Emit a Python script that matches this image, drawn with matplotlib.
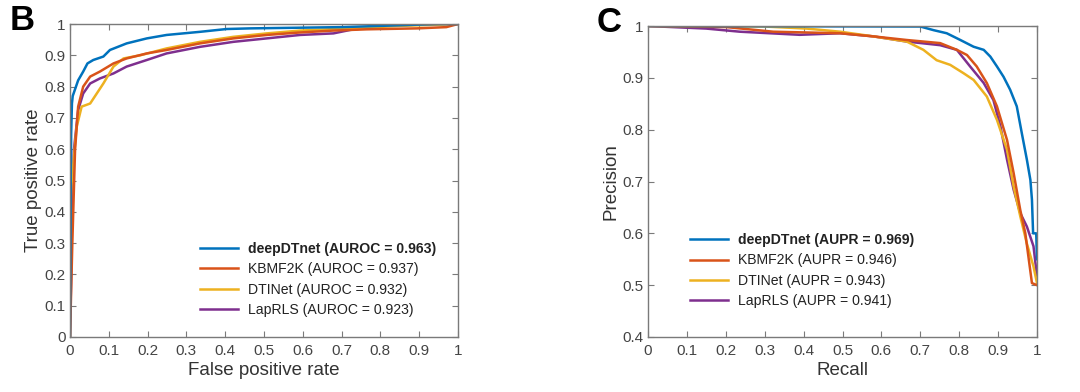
import matplotlib
matplotlib.use("Agg")
import matplotlib.pyplot as plt

plt.rcParams['font.family'] = ['Liberation Sans', 'DejaVu Sans']

# ROC curves (false positive rate, true positive rate)
roc_deep_x = [0, 0.002, 0.003, 0.005, 0.007, 0.021, 0.034, 0.045, 0.06, 0.086, 0.103, 0.146, 0.198, 0.249, 0.335, 0.404, 0.464, 0.7, 0.95, 1.0]
roc_deep_y = [0, 0.5, 0.65, 0.746, 0.77, 0.82, 0.848, 0.874, 0.885, 0.896, 0.917, 0.938, 0.954, 0.965, 0.975, 0.984, 0.986, 0.99, 1.0, 1.0]
roc_kbmf_x = [0, 0.006, 0.013, 0.021, 0.034, 0.052, 0.077, 0.112, 0.146, 0.198, 0.249, 0.335, 0.421, 0.507, 0.593, 0.679, 0.765, 0.894, 0.97, 1.0]
roc_kbmf_y = [0, 0.3, 0.597, 0.736, 0.80, 0.832, 0.848, 0.874, 0.89, 0.906, 0.917, 0.938, 0.954, 0.965, 0.973, 0.979, 0.983, 0.986, 0.99, 1.0]
roc_dti_x = [0, 0.001, 0.004, 0.017, 0.030, 0.052, 0.069, 0.086, 0.112, 0.138, 0.181, 0.249, 0.335, 0.421, 0.507, 0.593, 0.722, 0.851, 1.0]
roc_dti_y = [0, 0.4, 0.49, 0.67, 0.736, 0.746, 0.778, 0.81, 0.864, 0.89, 0.90, 0.922, 0.943, 0.959, 0.97, 0.979, 0.986, 0.994, 1.0]
roc_lap_x = [0, 0.003, 0.004, 0.01, 0.021, 0.034, 0.052, 0.077, 0.112, 0.146, 0.198, 0.249, 0.335, 0.421, 0.507, 0.593, 0.679, 0.722, 0.808, 0.894, 1.0]
roc_lap_y = [0, 0.2, 0.33, 0.597, 0.725, 0.778, 0.81, 0.826, 0.842, 0.864, 0.885, 0.906, 0.927, 0.943, 0.954, 0.965, 0.97, 0.981, 0.994, 0.998, 1.0]

# PR curves (recall, precision)
pr_deep_x = [0, 0.70, 0.734, 0.768, 0.803, 0.837, 0.863, 0.88, 0.897, 0.914, 0.931, 0.948, 0.961, 0.974, 0.983, 0.987, 0.99, 0.998, 1.0]
pr_deep_y = [1.0, 0.999, 0.992, 0.986, 0.973, 0.96, 0.954, 0.941, 0.922, 0.902, 0.877, 0.845, 0.793, 0.742, 0.703, 0.665, 0.60, 0.60, 0.55]
pr_kbmf_x = [0, 0.2, 0.322, 0.494, 0.579, 0.665, 0.751, 0.794, 0.82, 0.845, 0.871, 0.897, 0.923, 0.94, 0.957, 0.97, 0.979, 0.987, 1.0]
pr_kbmf_y = [1.0, 0.998, 0.989, 0.986, 0.98, 0.973, 0.967, 0.954, 0.944, 0.922, 0.89, 0.845, 0.78, 0.716, 0.645, 0.60, 0.549, 0.504, 0.50]
pr_dti_x = [0, 0.3, 0.408, 0.494, 0.579, 0.665, 0.708, 0.742, 0.777, 0.811, 0.837, 0.871, 0.897, 0.923, 0.94, 0.957, 0.974, 0.991, 1.0]
pr_dti_y = [1.0, 0.999, 0.995, 0.989, 0.98, 0.97, 0.954, 0.934, 0.925, 0.909, 0.896, 0.864, 0.819, 0.761, 0.69, 0.633, 0.58, 0.536, 0.504]
pr_lap_x = [0, 0.15, 0.236, 0.39, 0.494, 0.579, 0.665, 0.751, 0.794, 0.828, 0.863, 0.888, 0.906, 0.923, 0.94, 0.957, 0.974, 0.991, 1.0]
pr_lap_y = [1.0, 0.995, 0.989, 0.983, 0.986, 0.98, 0.97, 0.963, 0.954, 0.922, 0.89, 0.857, 0.806, 0.742, 0.684, 0.639, 0.613, 0.575, 0.517]

roc_labels = ["deepDTnet (AUROC = 0.963)", "KBMF2K (AUROC = 0.937)",
              "DTINet (AUROC = 0.932)", "LapRLS (AUROC = 0.923)"]
pr_labels = ["deepDTnet (AUPR = 0.969)", "KBMF2K (AUPR = 0.946)",
             "DTINet (AUPR = 0.943)", "LapRLS (AUPR = 0.941)"]
colors = ["#0072BD", "#D95319", "#EDB120", "#7E2F8E"]

ticks01 = [0, 0.1, 0.2, 0.3, 0.4, 0.5, 0.6, 0.7, 0.8, 0.9, 1]
tick_labels01 = ["0", "0.1", "0.2", "0.3", "0.4", "0.5", "0.6", "0.7", "0.8", "0.9", "1"]


def style_axes(ax):
    for s in ax.spines.values():
        s.set_color("#7a7a7a")
        s.set_linewidth(1.0)
    ax.tick_params(direction="in", top=True, right=True, length=4, width=0.8,
                   color="#7a7a7a", labelcolor="#444444", labelsize=11, pad=3)
    ax.tick_params(axis="x", pad=5)


fig = plt.figure(figsize=(10.8, 3.92), dpi=100)
ax1 = fig.add_axes([70 / 1080, 55 / 392, 388 / 1080, 313 / 392])
ax2 = fig.add_axes([648 / 1080, 55 / 392, 389 / 1080, 311 / 392])

roc_x = [roc_deep_x, roc_kbmf_x, roc_dti_x, roc_lap_x]
roc_y = [roc_deep_y, roc_kbmf_y, roc_dti_y, roc_lap_y]
pr_x = [pr_deep_x, pr_kbmf_x, pr_dti_x, pr_lap_x]
pr_y = [pr_deep_y, pr_kbmf_y, pr_dti_y, pr_lap_y]

# draw back to front so deepDTnet ends on top
for i in [3, 2, 1, 0]:
    ax1.plot(roc_x[i], roc_y[i], color=colors[i], lw=1.8, label=roc_labels[i])
    ax2.plot(pr_x[i], pr_y[i], color=colors[i], lw=1.8, label=pr_labels[i])

ax1.set_xlim(0, 1)
ax1.set_ylim(0, 1)
ax1.set_xticks(ticks01)
ax1.set_xticklabels(tick_labels01)
ax1.set_yticks(ticks01)
ax1.set_yticklabels(tick_labels01)
ax1.set_xlabel("False positive rate", fontsize=13.5, color="#333333", labelpad=3)
ax1.set_ylabel("True positive rate", fontsize=13.5, color="#333333", labelpad=2)
style_axes(ax1)

ax2.set_xlim(0, 1)
ax2.set_ylim(0.4, 1)
ax2.set_xticks(ticks01)
ax2.set_xticklabels(tick_labels01)
ax2.set_yticks([0.4, 0.5, 0.6, 0.7, 0.8, 0.9, 1])
ax2.set_yticklabels(["0.4", "0.5", "0.6", "0.7", "0.8", "0.9", "1"])
ax2.set_xlabel("Recall", fontsize=13.5, color="#333333", labelpad=3)
ax2.set_ylabel("Precision", fontsize=13.5, color="#333333", labelpad=2)
style_axes(ax2)

for ax, anchor in [(ax1, (0.335, 0.064)), (ax2, (0.108, 0.093))]:
    h, l = ax.get_legend_handles_labels()
    leg = ax.legend(h[::-1], l[::-1], loc="lower left", bbox_to_anchor=anchor,
                    frameon=False, fontsize=10.1, handlelength=2.7,
                    handletextpad=0.7, labelspacing=0.45, borderaxespad=0,
                    borderpad=0)
    for t in leg.get_texts():
        t.set_color("#222222")
    leg.get_texts()[0].set_fontweight("bold")

fig.text(10 / 1080, 1 - 21 / 392, "B", fontsize=25, fontweight="bold", va="center")
fig.text(597 / 1080, 1 - 23 / 392, "C", fontsize=25, fontweight="bold", va="center")

plt.savefig("out.png", dpi=100)
